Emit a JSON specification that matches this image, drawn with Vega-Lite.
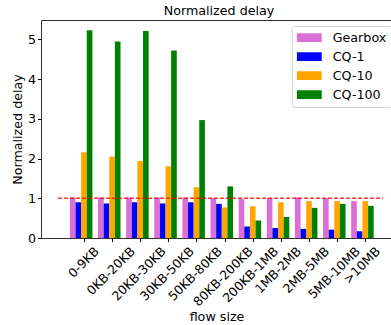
{
  "$schema": "https://vega.github.io/schema/vega-lite/v6.json",
  "width": 351,
  "height": 218,
  "autosize": {"type": "none"},
  "padding": {"left": 41, "top": 20, "right": 0, "bottom": 87},
  "title": {"text": "Normalized delay", "fontSize": 12.7, "font": "DejaVu Sans", "fontWeight": "normal", "offset": 2, "dx": 2.5, "color": "#000"},
  "config": {"view": {"stroke": "#333", "strokeWidth": 1}, "font": "DejaVu Sans"},
  "datasets": {
    "bars": [
      {"size": "0-9KB", "series": "Gearbox", "value": 1.02},
      {"size": "0-9KB", "series": "CQ-1", "value": 0.9},
      {"size": "0-9KB", "series": "CQ-10", "value": 2.16},
      {"size": "0-9KB", "series": "CQ-100", "value": 5.23},
      {"size": "0KB-20KB", "series": "Gearbox", "value": 1.02},
      {"size": "0KB-20KB", "series": "CQ-1", "value": 0.87},
      {"size": "0KB-20KB", "series": "CQ-10", "value": 2.05},
      {"size": "0KB-20KB", "series": "CQ-100", "value": 4.95},
      {"size": "20KB-30KB", "series": "Gearbox", "value": 1.02},
      {"size": "20KB-30KB", "series": "CQ-1", "value": 0.9},
      {"size": "20KB-30KB", "series": "CQ-10", "value": 1.94},
      {"size": "20KB-30KB", "series": "CQ-100", "value": 5.21},
      {"size": "30KB-50KB", "series": "Gearbox", "value": 1.02},
      {"size": "30KB-50KB", "series": "CQ-1", "value": 0.87},
      {"size": "30KB-50KB", "series": "CQ-10", "value": 1.81},
      {"size": "30KB-50KB", "series": "CQ-100", "value": 4.72},
      {"size": "50KB-80KB", "series": "Gearbox", "value": 1.02},
      {"size": "50KB-80KB", "series": "CQ-1", "value": 0.9},
      {"size": "50KB-80KB", "series": "CQ-10", "value": 1.28},
      {"size": "50KB-80KB", "series": "CQ-100", "value": 2.97},
      {"size": "80KB-200KB", "series": "Gearbox", "value": 1.0},
      {"size": "80KB-200KB", "series": "CQ-1", "value": 0.86},
      {"size": "80KB-200KB", "series": "CQ-10", "value": 0.77},
      {"size": "80KB-200KB", "series": "CQ-100", "value": 1.3},
      {"size": "200KB-1MB", "series": "Gearbox", "value": 0.98},
      {"size": "200KB-1MB", "series": "CQ-1", "value": 0.29},
      {"size": "200KB-1MB", "series": "CQ-10", "value": 0.8},
      {"size": "200KB-1MB", "series": "CQ-100", "value": 0.44},
      {"size": "1MB-2MB", "series": "Gearbox", "value": 1.0},
      {"size": "1MB-2MB", "series": "CQ-1", "value": 0.25},
      {"size": "1MB-2MB", "series": "CQ-10", "value": 0.9},
      {"size": "1MB-2MB", "series": "CQ-100", "value": 0.53},
      {"size": "2MB-5MB", "series": "Gearbox", "value": 1.02},
      {"size": "2MB-5MB", "series": "CQ-1", "value": 0.23},
      {"size": "2MB-5MB", "series": "CQ-10", "value": 0.93},
      {"size": "2MB-5MB", "series": "CQ-100", "value": 0.76},
      {"size": "5MB-10MB", "series": "Gearbox", "value": 1.0},
      {"size": "5MB-10MB", "series": "CQ-1", "value": 0.21},
      {"size": "5MB-10MB", "series": "CQ-10", "value": 0.93},
      {"size": "5MB-10MB", "series": "CQ-100", "value": 0.86},
      {"size": ">10MB", "series": "Gearbox", "value": 0.93},
      {"size": ">10MB", "series": "CQ-1", "value": 0.17},
      {"size": ">10MB", "series": "CQ-10", "value": 0.93},
      {"size": ">10MB", "series": "CQ-100", "value": 0.81}
    ],
    "ref": [
      {"from": "0-9KB", "to": ">10MB", "level": 1}
    ]
  },
  "layer": [
    {
      "data": {"name": "bars"},
      "mark": {"type": "bar"},
      "encoding": {
        "x": {
          "field": "size", "type": "nominal",
          "scale": {
            "domain": ["0-9KB", "0KB-20KB", "20KB-30KB", "30KB-50KB", "50KB-80KB", "80KB-200KB", "200KB-1MB", "1MB-2MB", "2MB-5MB", "5MB-10MB", ">10MB"],
            "paddingInner": 0.2, "paddingOuter": 0.839, "align": 0.612
          },
          "axis": {
            "title": "flow size", "titleFontSize": 12.7, "titleFontWeight": "normal", "titleColor": "#000", "titlePadding": 2,
            "labelAngle": -45, "labelAlign": "right", "labelBaseline": "top",
            "labelOffset": {"expr": "length(datum.label)*2.65-5"},
            "labelFontSize": 12.5, "labelColor": "#000", "labelPadding": 3,
            "tickSize": 3.5, "tickColor": "#000", "tickOffset": 2.8,
            "domain": false, "labelOverlap": false, "labelBound": false, "labelFlush": false
          }
        },
        "xOffset": {"field": "series", "type": "nominal", "sort": ["Gearbox", "CQ-1", "CQ-10", "CQ-100"], "scale": {"paddingInner": 0, "paddingOuter": 0}},
        "y": {
          "field": "value", "type": "quantitative",
          "scale": {"domain": [0, 5.49], "nice": false},
          "axis": {
            "title": "Normalized delay", "values": [0, 1, 2, 3, 4, 5], "grid": false, "domain": false,
            "tickSize": 3.5, "tickColor": "#000", "labelPadding": 2, "labelFontSize": 12.7, "labelColor": "#000",
            "titleFontSize": 12.7, "titleFontWeight": "normal", "titleColor": "#000", "titlePadding": 3
          }
        },
        "color": {
          "field": "series", "type": "nominal",
          "scale": {"domain": ["Gearbox", "CQ-1", "CQ-10", "CQ-100"], "range": ["#da70d6", "#0000ff", "#ffa500", "#008000"]},
          "legend": {
            "title": null, "orient": "none", "legendX": 250.7, "legendY": 6,
            "symbolType": "M-1,-0.35H1V0.35H-1Z", "symbolSize": 625, "symbolStrokeWidth": 0,
            "labelFontSize": 12.7, "labelColor": "#000", "labelOffset": 11,
            "padding": 5, "rowPadding": 5, "clipHeight": 13,
            "strokeColor": "#d0d0d0", "fillColor": "white", "cornerRadius": 3
          }
        }
      }
    },
    {
      "data": {"name": "ref"},
      "mark": {"type": "rule", "color": "#ff0000", "opacity": 0.8, "strokeDash": [4, 2], "strokeWidth": 1.5},
      "encoding": {
        "x": {"field": "from", "type": "nominal", "bandPosition": -0.525},
        "x2": {"field": "to", "bandPosition": 1.41},
        "y": {"field": "level", "type": "quantitative"}
      }
    }
  ]
}
